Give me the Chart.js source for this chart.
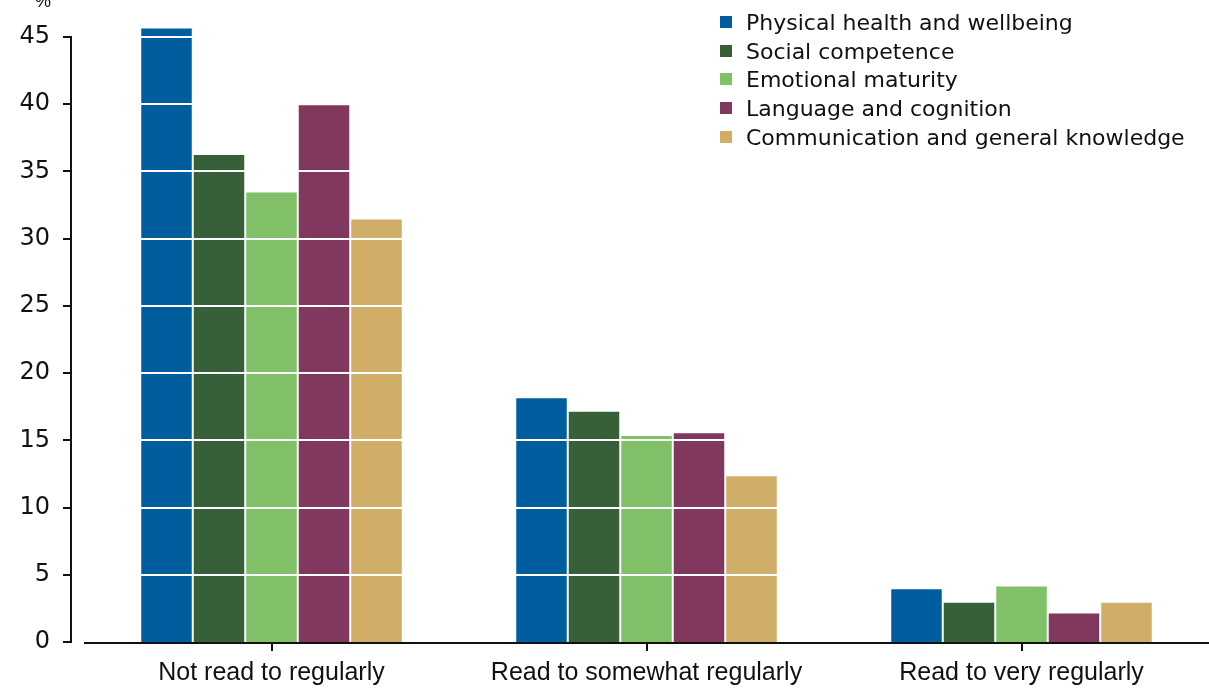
<!DOCTYPE html>
<html>
<head>
<meta charset="utf-8">
<script src="https://cdn.jsdelivr.net/npm/chart.js@4"></script>
<style>
  html, body { margin: 0; padding: 0; background: #fff; }
  #wrap { position: relative; width: 1209px; height: 688px; }
  #legend { position: absolute; left: 720px; top: 9px; font-family: "DejaVu Sans", sans-serif; font-size: 22px; color: #111; }
  #legend div { height: 28.7px; line-height: 28.7px; white-space: nowrap; }
  #legend span { display: inline-block; width: 12px; height: 12px; margin-right: 14px; vertical-align: 2px; }
</style>
</head>
<body>
<div id="wrap">
  <canvas id="chart" width="1209" height="688"></canvas>
  <div id="legend"></div>
</div>
<script>
const categories = ["Not read to regularly", "Read to somewhat regularly", "Read to very regularly"];
const seriesNames = ["Physical health and wellbeing", "Social competence", "Emotional maturity", "Language and cognition", "Communication and general knowledge"];
const physical = [45.7, 18.2, 4.0];
const social = [36.3, 17.2, 3.0];
const emotional = [33.5, 15.4, 4.2];
const language = [40.0, 15.6, 2.2];
const communication = [31.5, 12.4, 3.0];
const colours = ["#005e9e", "#386038", "#80c068", "#80385e", "#d0ae68"];
const yTicks = [0, 5, 10, 15, 20, 25, 30, 35, 40, 45];

const seriesValues = [physical, social, emotional, language, communication];

// white gridlines on top of the bars, plus the detached axis lines
const axesPlugin = {
  id: "axesPlugin",
  afterDatasetsDraw(chart) {
    const { ctx, chartArea: a, scales: { x, y } } = chart;
    ctx.save();
    ctx.strokeStyle = "#fff";
    ctx.lineWidth = 2;
    yTicks.forEach(t => {
      if (t === 0) return;
      const py = Math.round(y.getPixelForValue(t));
      ctx.beginPath();
      ctx.moveTo(a.left, py);
      ctx.lineTo(a.right, py);
      ctx.stroke();
    });
    ctx.strokeStyle = "#111";
    // y axis line
    const ax = a.left - 13;
    ctx.beginPath();
    ctx.moveTo(ax, y.getPixelForValue(45));
    ctx.lineTo(ax, y.getPixelForValue(0));
    ctx.stroke();
    yTicks.forEach(t => {
      const py = Math.round(y.getPixelForValue(t));
      ctx.beginPath();
      ctx.moveTo(ax - 8, py);
      ctx.lineTo(ax + 1, py);
      ctx.stroke();
    });
    // x axis line
    const by = y.getPixelForValue(0) + 1;
    ctx.beginPath();
    ctx.moveTo(a.left, by);
    ctx.lineTo(a.right, by);
    ctx.stroke();
    categories.forEach((c, i) => {
      const px = Math.round(x.getPixelForValue(i));
      ctx.beginPath();
      ctx.moveTo(px, by);
      ctx.lineTo(px, by + 8);
      ctx.stroke();
    });
    // unit label
    ctx.fillStyle = "#111";
    ctx.font = "18px 'Liberation Sans', sans-serif";
    ctx.textAlign = "center";
    ctx.textBaseline = "bottom";
    ctx.fillText("%", 43, 11);
    ctx.restore();
  }
};

const chart = new Chart(document.getElementById("chart").getContext("2d"), {
  type: "bar",
  data: {
    labels: categories,
    datasets: seriesNames.map((name, i) => ({
      label: name,
      data: seriesValues[i],
      backgroundColor: colours[i],
      borderColor: "rgba(255,255,255,0.85)",
      borderWidth: 1,
      categoryPercentage: 0.7,
      barPercentage: 1.0,
      clip: false
    }))
  },
  options: {
    responsive: false,
    animation: false,
    layout: { padding: { top: 37, right: 0, left: 0, bottom: 0 } },
    plugins: {
      legend: { display: false },
      tooltip: { enabled: false }
    },
    scales: {
      x: {
        grid: { display: false, drawTicks: true, tickLength: 8 },
        border: { display: false },
        ticks: {
          color: "#111",
          padding: 8,
          font: { family: "'Liberation Sans Narrow', sans-serif", size: 25 }
        },
        afterFit(scale) { scale.height = 46; }
      },
      y: {
        min: 0,
        max: 45,
        grid: { display: false, drawTicks: true, tickLength: 30 },
        border: { display: false },
        afterBuildTicks(scale) { scale.ticks = yTicks.map(v => ({ value: v })); },
        ticks: {
          color: "#111",
          padding: 4,
          font: { family: "'DejaVu Sans', sans-serif", size: 24 }
        },
        afterFit(scale) { scale.width = 84; }
      }
    }
  },
  plugins: [axesPlugin]
});

const legend = document.getElementById("legend");
chart.data.datasets.forEach(ds => {
  const row = document.createElement("div");
  row.innerHTML = `<span style="background:${ds.backgroundColor}"></span>${ds.label}`;
  legend.appendChild(row);
});
</script>
</body>
</html>
